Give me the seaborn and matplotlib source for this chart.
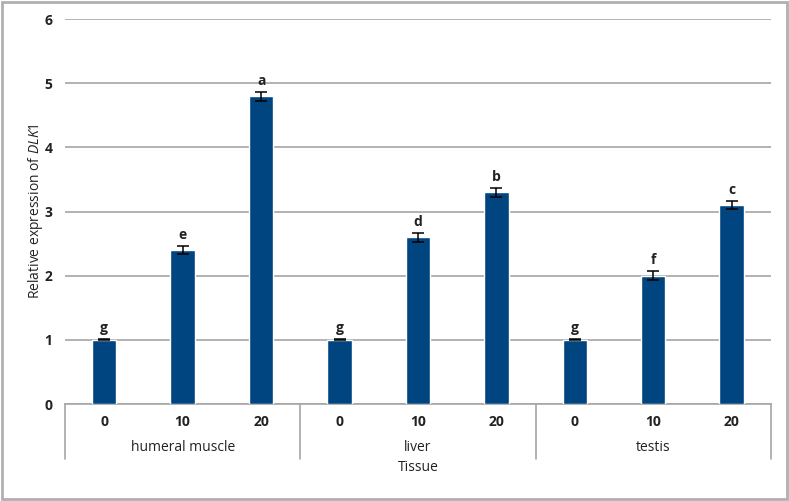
import matplotlib
matplotlib.use("Agg")
import matplotlib.pyplot as plt
import matplotlib.transforms as mtransforms
from matplotlib.patches import Rectangle
import numpy as np
import pandas as pd
import seaborn as sns

# data
tissues = ["humeral muscle", "liver", "testis"]
doses = ["0", "10", "20"]
expression = [1.0, 2.4, 4.8, 1.0, 2.6, 3.3, 1.0, 2.0, 3.1]
errors = [0.01, 0.06, 0.07, 0.01, 0.07, 0.07, 0.01, 0.07, 0.06]
letters = ["g", "e", "a", "g", "d", "b", "g", "f", "c"]

BAR_COLOR = "#004580"
GRID_COLOR = "#a6a6a6"
FONT = "Open Sans"

sns.set_theme(style="white")
plt.rcParams["font.family"] = [FONT, "DejaVu Sans"]
plt.rcParams["mathtext.fontset"] = "custom"
plt.rcParams["mathtext.it"] = f"{FONT}:italic"
plt.rcParams["mathtext.rm"] = FONT

df = pd.DataFrame({
    "tissue": np.repeat(tissues, len(doses)),
    "dose": doses * len(tissues),
    "value": expression,
})
df["cond"] = df["tissue"] + " " + df["dose"]

fig = plt.figure(figsize=(7.89, 5.01), dpi=100)
ax = fig.add_axes([0.0824, 0.1936, 0.977 - 0.0824, 0.962 - 0.1936])

sns.barplot(data=df, x="cond", y="value", order=list(df["cond"]),
            color=BAR_COLOR, width=0.31, errorbar=None, ax=ax,
            saturation=1, zorder=3)

centers = [p.get_x() + p.get_width() / 2 for p in ax.patches]
ax.errorbar(centers, expression, yerr=errors, fmt="none", ecolor="black",
            elinewidth=1.1, capsize=4, capthick=1.1, zorder=4)
for xc, v, e, lab in zip(centers, expression, errors, letters):
    ax.text(xc, v + e + 0.06, lab, ha="center", va="bottom",
            fontsize=10, fontweight="bold", color="#222222")

ax.set_ylim(0, 6)
ax.set_xlim(-0.5, len(expression) - 0.5)
ax.set_yticks(range(0, 7))
ax.yaxis.grid(True, color=GRID_COLOR, linewidth=1.2, zorder=0)
ax.set_axisbelow(True)
for side in ["left", "right", "top"]:
    ax.spines[side].set_visible(False)
ax.spines["bottom"].set_color(GRID_COLOR)
ax.spines["bottom"].set_linewidth(1.2)

ax.set_xticks(range(len(expression)))
ax.set_xticklabels(df["dose"], fontsize=10, fontweight="bold", color="#222222")
ax.tick_params(axis="both", length=0)
ax.tick_params(axis="x", pad=8)
ax.tick_params(axis="y", pad=9, labelsize=10, labelcolor="#222222")
for t in ax.get_yticklabels():
    t.set_fontweight("bold")

ax.set_xlabel("")
ax.set_ylabel(r"Relative expression of $\mathit{DLK1}$", fontsize=10,
              color="#222222")
ax.yaxis.set_label_coords(-0.029, 0.5)

# grouped category axis below the bars
trans = mtransforms.blended_transform_factory(ax.transData, ax.transAxes)
for xs in [-0.5, 2.5, 5.5, 8.5]:
    ax.plot([xs, xs], [0, -0.143], transform=trans, color=GRID_COLOR,
            linewidth=1.2, clip_on=False)
for i, tissue in enumerate(tissues):
    ax.text(i * 3 + 1, -0.114, tissue, transform=trans, ha="center",
            va="center", fontsize=10, color="#222222")
ax.text(0.5, -0.166, "Tissue", transform=ax.transAxes, ha="center",
        va="center", fontsize=10, color="#222222")

fig.patches.append(Rectangle((0.003, 0.004), 0.994, 0.992,
                             transform=fig.transFigure, fill=False,
                             edgecolor="#b0b0b0", linewidth=2))

fig.savefig("out.png", dpi=100)
